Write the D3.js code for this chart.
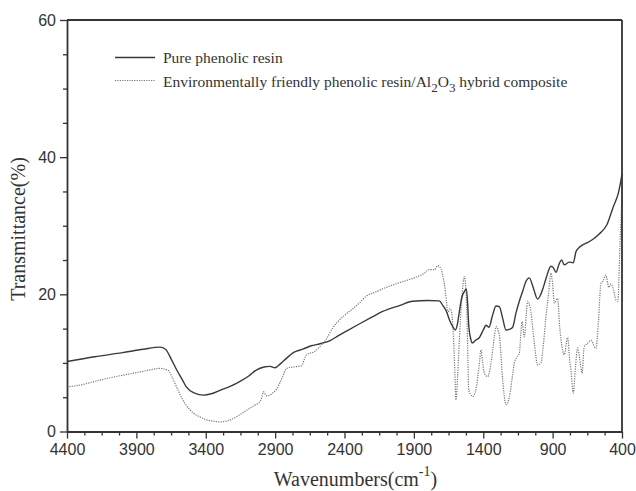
<!DOCTYPE html>
<html lang="en">
<head>
    <meta charset="UTF-8">
    <title>FTIR Spectra</title>
    <script src="https://d3js.org/d3.v7.min.js"></script>
    <style>
        body {
            margin: 0;
            background: #fff;
        }

        .tick text {
            font-family: Arial, "Liberation Sans", sans-serif;
            font-size: 16px;
            fill: #333;
        }

        .axis-title, .legend text {
            font-family: "Times New Roman", "Liberation Serif", serif;
            fill: #333;
        }
    </style>
</head>
<body>
    <div id="chart"></div>
    <script>
        // wavenumber (cm-1) and transmittance (%)
        const pureWn = [4400, 4200, 4000, 3850, 3730, 3690, 3650, 3610, 3570, 3540, 3480, 3418, 3360, 3297, 3220, 3153, 3090, 3033, 2980, 2937, 2900, 2860, 2817, 2769, 2700, 2640, 2577, 2500, 2450, 2389, 2300, 2200, 2125, 2000, 1909, 1800, 1717, 1692, 1665, 1644, 1620, 1601, 1585, 1572, 1555, 1536, 1522, 1512, 1504, 1490, 1480, 1455, 1428, 1400, 1380, 1358, 1335, 1308, 1284, 1260, 1236, 1212, 1188, 1164, 1140, 1115, 1092, 1068, 1040, 1008, 990, 972, 945, 912, 895, 876, 852, 835, 816, 780, 751, 732, 715, 684, 654, 612, 570, 510, 462, 426, 400];
        const pureT = [10.2, 10.9, 11.5, 12.0, 12.3, 12.0, 10.6, 9.0, 7.6, 6.5, 5.6, 5.3, 5.5, 6.0, 6.6, 7.3, 8.1, 9.0, 9.4, 9.5, 9.3, 9.9, 10.7, 11.5, 12.0, 12.5, 12.8, 13.3, 13.9, 14.6, 15.6, 16.7, 17.5, 18.4, 19.0, 19.1, 19.05, 18.4, 17.5, 16.3, 15.3, 14.8, 15.8, 17.5, 19.5, 20.4, 20.8, 18.5, 15.3, 13.5, 12.9, 13.3, 13.7, 14.8, 15.5, 15.2, 16.8, 18.3, 18.2, 16.5, 14.8, 14.9, 15.2, 17.3, 19.0, 20.5, 21.9, 22.4, 21.0, 19.3, 19.8, 20.7, 22.5, 24.1, 23.9, 23.2, 24.5, 25.0, 24.3, 24.7, 24.6, 26.2, 26.7, 27.2, 27.5, 28.0, 28.7, 30.1, 32.8, 34.8, 37.5];

        const hybridWn = [4400, 4300, 4162, 4050, 3922, 3820, 3730, 3670, 3640, 3610, 3580, 3550, 3520, 3490, 3440, 3394, 3340, 3297, 3250, 3201, 3150, 3105, 3050, 3009, 2995, 2985, 2961, 2940, 2925, 2889, 2850, 2817, 2769, 2709, 2690, 2673, 2613, 2577, 2530, 2485, 2430, 2365, 2300, 2245, 2180, 2125, 2060, 2005, 1940, 1885, 1830, 1789, 1750, 1728, 1704, 1690, 1680, 1665, 1656, 1640, 1632, 1616, 1605, 1597, 1585, 1572, 1555, 1536, 1519, 1510, 1505, 1490, 1476, 1452, 1430, 1416, 1405, 1392, 1368, 1344, 1320, 1308, 1284, 1260, 1236, 1212, 1190, 1176, 1160, 1140, 1130, 1121, 1104, 1090, 1080, 1056, 1032, 1008, 984, 965, 948, 930, 912, 900, 888, 864, 850, 840, 816, 792, 775, 768, 751, 735, 720, 704, 688, 672, 650, 624, 588, 570, 552, 535, 516, 495, 480, 462, 444, 430, 415, 405, 400];
        const hybridT = [6.5, 6.8, 7.5, 8.0, 8.5, 8.9, 9.2, 8.9, 7.8, 6.5, 5.2, 4.1, 3.3, 2.7, 2.1, 1.7, 1.5, 1.4, 1.5, 1.9, 2.5, 3.1, 3.8, 4.4, 5.0, 5.8, 5.2, 5.3, 5.5, 6.2, 7.8, 9.2, 9.4, 9.6, 10.5, 11.2, 11.7, 12.4, 13.5, 15.1, 16.4, 17.5, 18.6, 19.7, 20.3, 20.8, 21.3, 21.7, 22.1, 22.5, 23.0, 23.6, 23.6, 24.2, 23.7, 22.5, 21.5, 19.0, 17.3, 17.9, 17.7, 14.3, 9.0, 4.6, 8.0, 13.5, 19.2, 22.6, 18.0, 10.0, 6.1, 5.4, 5.1, 6.2, 9.5, 11.9, 10.2, 8.5, 8.0, 10.0, 13.8, 15.3, 14.0, 7.5, 3.9, 5.0, 8.0, 10.0, 10.8, 11.4, 14.0, 16.0, 13.8, 17.0, 19.0, 17.4, 12.9, 9.7, 10.0, 13.0, 16.8, 20.0, 23.1, 21.5, 18.7, 19.4, 15.5, 13.5, 11.2, 13.7, 10.0, 9.0, 5.6, 9.5, 12.2, 10.5, 8.5, 12.4, 12.8, 13.3, 12.1, 16.0, 21.6, 22.0, 22.8, 21.0, 21.5, 20.7, 19.2, 19.0, 27.0, 32.0, 34.0];

        const xTicks = [4400, 3900, 3400, 2900, 2400, 1900, 1400, 900, 400];
        const yTicks = [0, 20, 40, 60];
        const legendLabels = ["Pure phenolic resin", "Environmentally friendly phenolic resin/Al2O3 hybrid composite"];

        const margin = { top: 20, right: 14, bottom: 59.5, left: 67 };
        const width = 636 - margin.left - margin.right;
        const height = 491 - margin.top - margin.bottom;

        const svg = d3.select("#chart")
            .append("svg")
            .attr("width", 636)
            .attr("height", 491)
            .append("g")
            .attr("transform", `translate(${margin.left},${margin.top})`);

        const x = d3.scaleLinear().domain([4400, 400]).range([0, width]);
        const y = d3.scaleLinear().domain([0, 60]).range([height, 0]);

        const pure = pureWn.map((w, i) => ({ w, t: pureT[i] }));
        const hybrid = hybridWn.map((w, i) => ({ w, t: hybridT[i] }));

        const line = d3.line()
            .x(d => x(d.w))
            .y(d => y(d.t))
            .curve(d3.curveMonotoneX);

        // curves
        svg.append("path")
            .datum(hybrid)
            .attr("fill", "none")
            .attr("stroke", "#777")
            .attr("stroke-width", 1.2)
            .attr("stroke-dasharray", "1.2,1.2")
            .attr("d", line);

        svg.append("path")
            .datum(pure)
            .attr("fill", "none")
            .attr("stroke", "#3a3a3a")
            .attr("stroke-width", 1.4)
            .attr("d", line);

        // minor ticks
        const xMinor = d3.range(4400, 399, -125).filter(v => !xTicks.includes(v));
        const yMinor = d3.range(0, 61, 5).filter(v => !yTicks.includes(v));

        svg.append("g")
            .attr("transform", `translate(0,${height})`)
            .call(d3.axisBottom(x).tickValues(xMinor).tickSize(4).tickFormat(""))
            .call(g => g.select(".domain").remove())
            .selectAll("line").attr("stroke", "#333").attr("stroke-width", 1.3);

        svg.append("g")
            .call(d3.axisLeft(y).tickValues(yMinor).tickSize(4).tickFormat(""))
            .call(g => g.select(".domain").remove())
            .selectAll("line").attr("stroke", "#333").attr("stroke-width", 1.3);

        // major axes
        const xAxis = svg.append("g")
            .attr("transform", `translate(0,${height})`)
            .call(d3.axisBottom(x).tickValues(xTicks).tickSize(7).tickSizeOuter(0).tickPadding(5).tickFormat(d3.format("d")));

        const yAxis = svg.append("g")
            .call(d3.axisLeft(y).tickValues(yTicks).tickSize(7).tickSizeOuter(0).tickPadding(4));

        [xAxis, yAxis].forEach(a => {
            a.select(".domain").attr("stroke", "#333").attr("stroke-width", 1.8);
            a.selectAll(".tick line").attr("stroke", "#333").attr("stroke-width", 1.3);
        });

        // box top/right
        svg.append("line")
            .attr("x1", 0).attr("x2", width).attr("y1", 0).attr("y2", 0)
            .attr("stroke", "#333").attr("stroke-width", 1.8);
        svg.append("line")
            .attr("x1", width).attr("x2", width).attr("y1", 0).attr("y2", height)
            .attr("stroke", "#333").attr("stroke-width", 1.8);

        // axis titles
        const xt = svg.append("text")
            .attr("class", "axis-title")
            .attr("x", width / 2 + 11)
            .attr("y", height + 54)
            .attr("text-anchor", "middle")
            .attr("font-size", 20);
        xt.append("tspan").text("Wavenumbers(cm");
        xt.append("tspan").attr("dy", -10).attr("font-size", 14).text("-1");
        xt.append("tspan").attr("dy", 10).text(")");

        svg.append("text")
            .attr("class", "axis-title")
            .attr("transform", `translate(${-42},${209}) rotate(-90)`)
            .attr("text-anchor", "middle")
            .attr("font-size", 20)
            .text("Transmittance(%)");

        // legend
        const legend = svg.append("g").attr("class", "legend");
        const ly = [37.5, 60.5];

        legend.append("line")
            .attr("x1", 48).attr("x2", 88).attr("y1", ly[0]).attr("y2", ly[0])
            .attr("stroke", "#3a3a3a").attr("stroke-width", 1.4);
        legend.append("line")
            .attr("x1", 48).attr("x2", 88).attr("y1", ly[1]).attr("y2", ly[1])
            .attr("stroke", "#777").attr("stroke-width", 1.2).attr("stroke-dasharray", "1.2,1.2");

        legend.append("text")
            .attr("x", 96).attr("y", ly[0] + 5)
            .attr("font-size", 15.5)
            .text(legendLabels[0]);

        // second label with subscripts for Al2O3
        const t2 = legend.append("text")
            .attr("x", 96).attr("y", ly[1] + 6)
            .attr("font-size", 15.5);
        const parts = legendLabels[1].split(/(\d)/);
        let sub = false;
        parts.forEach(p => {
            if (p === "") return;
            if (/\d/.test(p)) {
                t2.append("tspan").attr("dy", sub ? 0 : 5).attr("font-size", 13).text(p);
                sub = true;
            } else {
                t2.append("tspan").attr("dy", sub ? -5 : 0).text(p);
                sub = false;
            }
        });
    </script>
</body>
</html>
